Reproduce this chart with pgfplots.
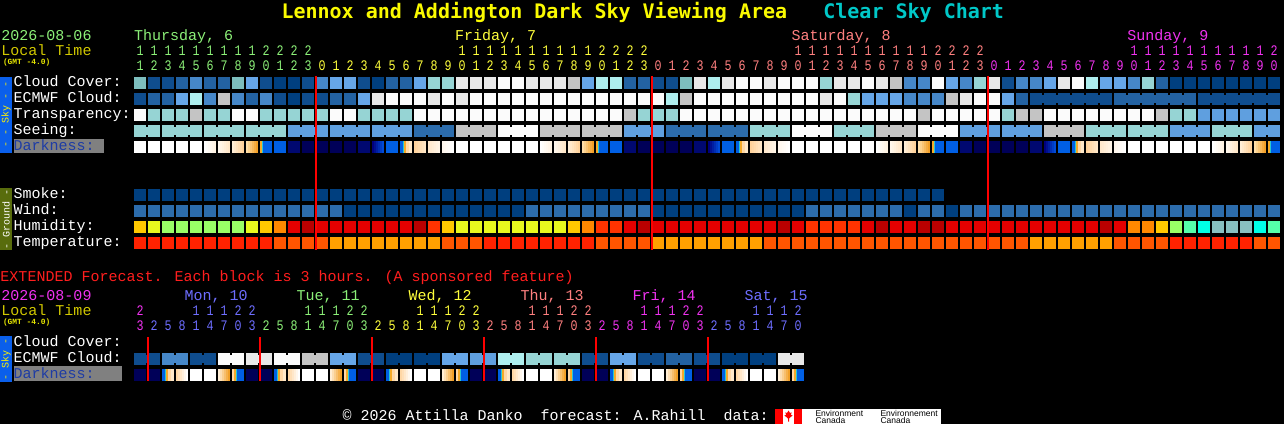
\documentclass[border=0pt]{standalone}
\usepackage{pgfplots}
\pgfplotsset{compat=1.18}
\usepackage{pgfplotstable}
\usepackage{graphicx}
\usepackage{fontspec}
\setmainfont{Liberation Mono}
\newfontfamily\titlefont{DejaVu Sans Mono}
\newfontfamily\sansf{Liberation Sans}

% cloud / sky palette
\definecolor{cA}{RGB}{0,63,127}
\definecolor{cB}{RGB}{15,77,142}
\definecolor{cC}{RGB}{35,98,162}
\definecolor{cD}{RGB}{70,135,200}
\definecolor{cE}{RGB}{102,166,232}
\definecolor{cF}{RGB}{125,190,190}
\definecolor{cG}{RGB}{150,212,212}
\definecolor{cH}{RGB}{174,238,238}
\definecolor{cI}{RGB}{196,196,196}
\definecolor{cJ}{RGB}{232,232,232}
\definecolor{cK}{RGB}{251,251,251}
\definecolor{cL}{RGB}{95,159,223}
\definecolor{cM}{RGB}{44,108,172}
% humidity
\definecolor{hYa}{RGB}{255,200,0}
\definecolor{hYb}{RGB}{232,248,30}
\definecolor{hGr}{RGB}{153,255,102}
\definecolor{hOa}{RGB}{255,136,0}
\definecolor{hOb}{RGB}{255,51,0}
\definecolor{hRa}{RGB}{228,0,0}
\definecolor{hRb}{RGB}{185,0,0}
\definecolor{hQa}{RGB}{85,255,170}
\definecolor{hQb}{RGB}{0,255,230}
\definecolor{hQc}{RGB}{136,192,192}
% temperature
\definecolor{tTa}{RGB}{255,34,0}
\definecolor{tTb}{RGB}{255,85,0}
\definecolor{tTc}{RGB}{255,160,0}
% darkness
\definecolor{nvA}{RGB}{0,0,88}
\definecolor{nvB}{RGB}{0,8,112}
\definecolor{nvG1}{RGB}{0,0,125}
\definecolor{nvG2}{RGB}{0,75,215}
\definecolor{sOr}{RGB}{245,170,40}
\definecolor{sCy}{RGB}{40,200,210}
\definecolor{sBl}{RGB}{0,95,228}
\definecolor{pkA}{RGB}{255,215,165}
\definecolor{pkB}{RGB}{255,232,200}
\definecolor{evA}{RGB}{255,243,226}
\definecolor{evB1}{RGB}{255,247,236}
\definecolor{evB2}{RGB}{255,231,200}
\definecolor{evC1}{RGB}{255,238,214}
\definecolor{evC2}{RGB}{255,210,155}
\definecolor{evD1}{RGB}{255,222,168}
\definecolor{evD2}{RGB}{242,160,40}
\definecolor{moE1}{RGB}{255,210,155}
\definecolor{moE2}{RGB}{255,230,198}
\definecolor{moF1}{RGB}{255,232,204}
\definecolor{moF2}{RGB}{255,244,230}
\definecolor{moH1}{RGB}{255,246,236}
% text colours
\definecolor{ttl}{RGB}{250,250,0}
\definecolor{cyn}{RGB}{0,200,200}
\definecolor{thuC}{RGB}{140,240,120}
\definecolor{friC}{RGB}{255,255,60}
\definecolor{satC}{RGB}{255,128,128}
\definecolor{sunC}{RGB}{240,50,240}
\definecolor{monC}{RGB}{110,110,255}
\definecolor{ltC}{RGB}{210,200,0}
\definecolor{gmtC}{RGB}{230,230,0}
\definecolor{extC}{RGB}{255,30,30}
\definecolor{skyB}{RGB}{10,95,235}
\definecolor{grdB}{RGB}{88,108,12}
\definecolor{dkT}{RGB}{30,60,165}

\pgfdeclareplotmark{blk}{\pgfpathrectangle{\pgfqpoint{-6pt}{-6pt}}{\pgfqpoint{12pt}{12pt}}\pgfusepathqfill}
\pgfdeclareplotmark{conn}{\pgfpathrectangle{\pgfqpoint{-2pt}{-4pt}}{\pgfqpoint{4pt}{8pt}}\pgfusepathqfill}
\newcommand{\strip}[3]{\pgfsetfillcolor{#1}\pgfpathrectangle{\pgfqpoint{#2pt}{-6pt}}{\pgfqpoint{#3pt}{12pt}}\pgfusepathqfill}
\newcommand{\gradmark}[3]{\pgfdeclareplotmark{#1}{\strip{#2}{-6}{2.4}\strip{#2!80!#3}{-4}{2.4}\strip{#2!60!#3}{-2}{2.4}\strip{#2!40!#3}{0}{2.4}\strip{#2!20!#3}{2}{2.4}\strip{#3}{4}{2}}}
\gradmark{mkA}{white}{evA}
\gradmark{mkB}{evB1}{evB2}
\gradmark{mkC}{evC1}{evC2}
\gradmark{mkD}{evD1}{evD2}
\gradmark{mkE}{moE1}{moE2}
\gradmark{mkF}{moF1}{moF2}
\gradmark{mkH}{moH1}{white}
\gradmark{mkG}{nvG1}{nvG2}
\gradmark{mkEt}{pkA}{white}
\gradmark{mkDt}{evC1}{evD2}
\pgfdeclareplotmark{mkS}{\strip{sOr}{-6}{2.3}\strip{sCy}{-4}{1.4}\strip{sBl}{-3}{9}}
\pgfdeclareplotmark{mkR}{\strip{sBl}{-6}{3.3}\strip{sCy}{-3}{1}\strip{sOr}{-2.2}{2.6}\strip{pkA}{0.2}{3.2}\strip{pkB}{3.2}{2.8}}
\pgfdeclareplotmark{mkSt}{\strip{pkA}{-6}{2.3}\strip{sOr}{-4}{2.3}\strip{sCy}{-2}{1.3}\strip{sBl}{-1}{7}}

\pgfplotsset{csc/.style={scatter, only marks, point meta=explicit symbolic,
  scatter/classes={
   a={fill=cA},b={fill=cB},c={fill=cC},d={fill=cD},e={fill=cE},f={fill=cF},
   g={fill=cG},h={fill=cH},i={fill=cI},j={fill=cJ},k={fill=cK},L={fill=cL},M={fill=cM},
   z={fill=black},
   Ya={fill=hYa},Yb={fill=hYb},Gr={fill=hGr},Oa={fill=hOa},Ob={fill=hOb},
   Ra={fill=hRa},Rb={fill=hRb},Qa={fill=hQa},Qb={fill=hQb},Qc={fill=hQc},
   Ta={fill=tTa},Tb={fill=tTb},Tc={fill=tTc},
   dW={mark=blk,fill=white},dN={mark=blk,fill=nvA},dn={mark=blk,fill=nvB},dU={mark=blk,fill=sBl},
   dA={mark=mkA},dB={mark=mkB},dC={mark=mkC},dD={mark=mkD},dS={mark=mkS},dG={mark=mkG},
   dR={mark=mkR},dE={mark=mkE},dF={mark=mkF},dH={mark=mkH},
   dR3={mark=mkR},dE3={mark=mkEt},dD3={mark=mkDt},dS3={mark=mkSt}}}}

\pgfplotstableread{
i cc ec ecn tr se sen dk sm wi hu te
0 f b z k g g dW a M Ya Ta
1 b c z g g z dW a M Yb Ta
2 b c z g g g dW a M Gr Ta
3 c e z g g g dW a M Gr Ta
4 d h z i g z dW a M Gr Ta
5 c d z g g g dA a M Gr Ta
6 c i z g g g dB a M Gr Ta
7 f d z k g z dC a M Gr Ta
8 e c z k g g dD a M Yb Ta
9 b d z g g g dS a M Ya Ta
10 a b z g g z dU a M Oa Tb
11 a a z g L L dn a M Ra Tb
12 b b z g L L dN a M Rb Tb
13 d b z g L z dN a M Ra Tb
14 e c z k L L dN a M Ra Tc
15 e c z k L L dN a a Ra Tc
16 b e z g L z dn a a Ra Tc
17 a j z g L L dG a a Ra Tc
18 c k z g L L dU a a Ra Tc
19 c k z g L z dR a a Ra Tc
20 e k z k M M dE a a Rb Tc
21 g j z k M M dF a a Ob Tc
22 g k z k M z dH a a Ya Tb
23 j j z k i i dW a a Yb Tb
24 j k z k i i dW a a Yb Tb
25 j k z k i z dW a a Yb Ta
26 k k z k k k dW a a Yb Ta
27 k k z k k k dW a a Yb Ta
28 j k z k k z dW a M Yb Ta
29 j k z k i i dA a M Yb Ta
30 j k z k i i dB a M Yb Ta
31 i k z k i z dC a M Ya Ta
32 e k z k i i dD a M Oa Ta
33 h k z k i i dS a M Ob Tb
34 h k z k i z dU a M Ob Tb
35 c k z i L L dn a M Ra Tb
36 c k z g L L dN a M Rb Tb
37 b k z g L z dN a a Ra Tc
38 b h z g M M dN a a Ra Tc
39 f i z k M M dN a a Ra Tc
40 j k z k M z dn a a Ra Tc
41 h k z k M M dG a a Ra Tc
42 j k z k M M dU a a Ra Tc
43 k k z k M z dR a a Ra Tc
44 k k z k g g dE a a Ra Tc
45 j k z k g g dF a a Ra Tb
46 k k z k g z dH a a Rb Tb
47 k k z k k k dW a a Ra Tb
48 k k z k k k dW a M Ob Tb
49 g j z k k z dW a M Ob Tb
50 j k z k g g dW a M Ob Tb
51 j g z k g g dW a M Ob Tb
52 k e z k g z dW a M Ra Tb
53 j e z k i i dA a M Rb Tb
54 i e z k i i dB a M Ra Tb
55 d d z k i z dC a a Ra Tb
56 d d z i k k dD a M Rb Tb
57 k d z k k k dS a M Rb Tb
58 e i z k k z dU z a Ra Tb
59 d j z k L L dn z M Ra Tb
60 g k z k L L dN z M Ra Tb
61 j k z k L z dN z M Ra Tb
62 b e z g L L dN z M Ra Tb
63 d c z i L L dN z M Ra Tb
64 d b b i L z dn z M Ra Tc
65 e b b k i i dG z M Ra Tc
66 j b b k i i dU z M Ra Tc
67 k b b k i z dR z M Ra Tc
68 h b b k g g dE z M Ra Tc
69 e b z k g g dF z M Rb Tc
70 e c c k g z dH z M Ra Tb
71 d c c k g g dW z M Oa Tb
72 g c c k g g dW z M Oa Tb
73 c c c i g z dW z M Ya Tb
74 a c c g L L dW z M Gr Ta
75 a c z g L L dW z M Qa Ta
76 a b b L L z dW z M Qb Ta
77 a b b L g g dA z M Qc Ta
78 a b b L g g dB z M Qc Ta
79 a b b L g z dC z M Qc Ta
80 a b b L L L dD z M Qb Tb
81 a b z L L z dS z M Qa Tb
}\maintab

\pgfplotstableread{
c ec ecn dk
0 b b dN
1 b z dN
2 d d dR3
3 d z dE3
4 b b dW
5 b z dW
6 k k dD3
7 k z dS3
8 j j dN
9 j z dN
10 k k dR3
11 k z dE3
12 i i dW
13 i z dW
14 e e dD3
15 e z dS3
16 b b dN
17 b z dN
18 a a dR3
19 a z dE3
20 a a dW
21 a z dW
22 e e dD3
23 e z dS3
24 L L dN
25 L z dN
26 h h dR3
27 h z dE3
28 g g dW
29 g z dW
30 g g dD3
31 g z dS3
32 b b dN
33 b z dN
34 e e dR3
35 e z dE3
36 b b dW
37 b z dW
38 c c dD3
39 c z dS3
40 b b dN
41 b z dN
42 a a dR3
43 a z dE3
44 a a dW
45 a z dW
46 j j dD3
47 j z dS3
}\exttab

\newcommand\lf{\fontsize{15}{15}\selectfont}
\newcommand\df{\fontsize{11.667}{12}\selectfont}
\tikzset{lab/.style={anchor=base west, inner sep=0pt, outer sep=0pt}}
\newcommand{\digs}[4]{\node[lab, text=#1, font=\df] at (axis cs:#2,#3) {\scalebox{1}[1.25]{#4}};}

\begin{document}
\begin{tikzpicture}
\begin{axis}[name=ax, at={(0,0)}, anchor=south west,
  width=1284pt, height=424pt, scale only axis,
  xmin=0, xmax=1284, ymin=0, ymax=424, y dir=reverse,
  hide axis, clip=false, clip marker paths=true]
\fill[black] (axis cs:0,0) rectangle (axis cs:1284,424);

% ---------- main sky & ground blocks ----------
\addplot[csc, mark=conn] table[x expr=147+14*\thisrow{i}, y expr=99, meta=ecn] {\maintab};
\addplot[csc, mark=conn] table[x expr=147+14*\thisrow{i}, y expr=131, meta=sen] {\maintab};
\addplot[csc, mark=blk] table[x expr=140+14*\thisrow{i}, y expr=83, meta=cc] {\maintab};
\addplot[csc, mark=blk] table[x expr=140+14*\thisrow{i}, y expr=99, meta=ec] {\maintab};
\addplot[csc, mark=blk] table[x expr=140+14*\thisrow{i}, y expr=115, meta=tr] {\maintab};
\addplot[csc, mark=blk] table[x expr=140+14*\thisrow{i}, y expr=131, meta=se] {\maintab};
\addplot[csc, mark=blk] table[x expr=140+14*\thisrow{i}, y expr=147, meta=dk] {\maintab};
\addplot[csc, mark=blk] table[x expr=140+14*\thisrow{i}, y expr=195, meta=sm] {\maintab};
\addplot[csc, mark=blk] table[x expr=140+14*\thisrow{i}, y expr=211, meta=wi] {\maintab};
\addplot[csc, mark=blk] table[x expr=140+14*\thisrow{i}, y expr=227, meta=hu] {\maintab};
\addplot[csc, mark=blk] table[x expr=140+14*\thisrow{i}, y expr=243, meta=te] {\maintab};

% ---------- extended blocks ----------
\addplot[csc, mark=conn] table[x expr=147+14*\thisrow{c}, y expr=359, meta=ecn] {\exttab};
\addplot[csc, mark=blk] table[x expr=140+14*\thisrow{c}, y expr=359, meta=ec] {\exttab};
\addplot[csc, mark=blk] table[x expr=140+14*\thisrow{c}, y expr=375, meta=dk] {\exttab};

% ---------- midnight lines ----------
\addplot[red, line width=2.3pt, mark=none] coordinates {(315.7,76) (315.7,250)};
\addplot[red, line width=2.3pt, mark=none] coordinates {(651.7,76) (651.7,250)};
\addplot[red, line width=2.3pt, mark=none] coordinates {(987.7,76) (987.7,250)};
\addplot[red, line width=2.3pt, mark=none] coordinates {(148,337) (148,381)};
\addplot[red, line width=2.3pt, mark=none] coordinates {(260,337) (260,381)};
\addplot[red, line width=2.3pt, mark=none] coordinates {(372,337) (372,381)};
\addplot[red, line width=2.3pt, mark=none] coordinates {(484,337) (484,381)};
\addplot[red, line width=2.3pt, mark=none] coordinates {(596,337) (596,381)};
\addplot[red, line width=2.3pt, mark=none] coordinates {(708,337) (708,381)};

% ---------- title ----------
\node[lab, font=\titlefont\bfseries\fontsize{20}{20}\selectfont] at (axis cs:281.5,18.7)
  {\textcolor{ttl}{Lennox and Addington Dark Sky Viewing Area}\ \ \ \textcolor{cyn}{Clear Sky Chart}};

% ---------- main header ----------
\node[lab, text=thuC, font=\lf] at (axis cs:1.5,40) {2026-08-06};
\node[lab, text=ltC, font=\lf] at (axis cs:1.5,55) {Local Time};
\node[lab, text=gmtC, font=\bfseries\fontsize{7.9}{8}\selectfont] at (axis cs:3,64) {(GMT -4.0)};
\node[lab, text=thuC, font=\lf] at (axis cs:134,40) {Thursday, 6};
\node[lab, text=friC, font=\lf] at (axis cs:455,40) {Friday, 7};
\node[lab, text=satC, font=\lf] at (axis cs:791.5,40) {Saturday, 8};
\node[lab, text=sunC, font=\lf] at (axis cs:1127.3,40) {Sunday, 9};
\digs{thuC}{136.5}{55}{1 1 1 1 1 1 1 1 1 2 2 2 2}
\digs{thuC}{136.5}{70.5}{1 2 3 4 5 6 7 8 9 0 1 2 3}
\digs{friC}{458.5}{55}{1 1 1 1 1 1 1 1 1 1 2 2 2 2}
\digs{friC}{318.5}{70.5}{0 1 2 3 4 5 6 7 8 9 0 1 2 3 4 5 6 7 8 9 0 1 2 3}
\digs{satC}{794.5}{55}{1 1 1 1 1 1 1 1 1 1 2 2 2 2}
\digs{satC}{654.5}{70.5}{0 1 2 3 4 5 6 7 8 9 0 1 2 3 4 5 6 7 8 9 0 1 2 3}
\digs{sunC}{1130.5}{55}{1 1 1 1 1 1 1 1 1 1 2}
\digs{sunC}{990.5}{70.5}{0 1 2 3 4 5 6 7 8 9 0 1 2 3 4 5 6 7 8 9 0}

% ---------- row labels ----------
\fill[skyB] (axis cs:0,76.5) rectangle (axis cs:12,153);
\node[rotate=90, text=yellow, inner sep=0pt, font=\fontsize{10}{10}\selectfont] at (axis cs:6,114.5) {- - Sky - -};
\node[lab, text=white, font=\lf] at (axis cs:13.5,86.5) {Cloud Cover:};
\node[lab, text=white, font=\lf] at (axis cs:13.5,102.5) {ECMWF Cloud:};
\node[lab, text=white, font=\lf] at (axis cs:13.5,118.5) {Transparency:};
\node[lab, text=white, font=\lf] at (axis cs:13.5,134.5) {Seeing:};
\fill[gray] (axis cs:14,138.5) rectangle (axis cs:104,152.5);
\node[lab, text=dkT, font=\lf] at (axis cs:13.5,150.5) {Darkness:};

\fill[grdB] (axis cs:0,188) rectangle (axis cs:12,250);
\node[rotate=90, text=white, inner sep=0pt, font=\fontsize{10}{10}\selectfont] at (axis cs:6,219) {- Ground -};
\node[lab, text=white, font=\lf] at (axis cs:13.5,198.5) {Smoke:};
\node[lab, text=white, font=\lf] at (axis cs:13.5,214.5) {Wind:};
\node[lab, text=white, font=\lf] at (axis cs:13.5,230.5) {Humidity:};
\node[lab, text=white, font=\lf] at (axis cs:13.5,246.5) {Temperature:};

% ---------- extended header ----------
\node[lab, text=extC, font=\lf] at (axis cs:0.5,281) {EXTENDED Forecast. Each block is 3 hours. (A sponsored feature)};
\node[lab, text=sunC, font=\lf] at (axis cs:1.5,300) {2026-08-09};
\node[lab, text=ltC, font=\lf] at (axis cs:1.5,315) {Local Time};
\node[lab, text=gmtC, font=\bfseries\fontsize{7.9}{8}\selectfont] at (axis cs:3,324.5) {(GMT -4.0)};
\node[lab, text=monC, font=\lf] at (axis cs:184.7,300) {Mon, 10};
\node[lab, text=thuC, font=\lf] at (axis cs:296.7,300) {Tue, 11};
\node[lab, text=friC, font=\lf] at (axis cs:408.7,300) {Wed, 12};
\node[lab, text=satC, font=\lf] at (axis cs:520.7,300) {Thu, 13};
\node[lab, text=sunC, font=\lf] at (axis cs:632.7,300) {Fri, 14};
\node[lab, text=monC, font=\lf] at (axis cs:744.7,300) {Sat, 15};
\digs{sunC}{136.5}{315}{2}
\digs{sunC}{136.5}{330.5}{3}
\digs{monC}{192.5}{315}{1 1 1 2 2}
\digs{monC}{150.5}{330.5}{2 5 8 1 4 7 0 3}
\digs{thuC}{304.5}{315}{1 1 1 2 2}
\digs{thuC}{262.5}{330.5}{2 5 8 1 4 7 0 3}
\digs{friC}{416.5}{315}{1 1 1 2 2}
\digs{friC}{374.5}{330.5}{2 5 8 1 4 7 0 3}
\digs{satC}{528.5}{315}{1 1 1 2 2}
\digs{satC}{486.5}{330.5}{2 5 8 1 4 7 0 3}
\digs{sunC}{640.5}{315}{1 1 1 2 2}
\digs{sunC}{598.5}{330.5}{2 5 8 1 4 7 0 3}
\digs{monC}{752.5}{315}{1 1 1 2}
\digs{monC}{710.5}{330.5}{2 5 8 1 4 7 0}

\fill[skyB] (axis cs:0,336) rectangle (axis cs:12,382);
\node[rotate=90, text=yellow, inner sep=0pt, font=\fontsize{10}{10}\selectfont] at (axis cs:6,359) {- Sky -};
\node[lab, text=white, font=\lf] at (axis cs:13.5,346.5) {Cloud Cover:};
\node[lab, text=white, font=\lf] at (axis cs:13.5,362.5) {ECMWF Cloud:};
\fill[gray] (axis cs:14,366) rectangle (axis cs:121.5,380.7);
\node[lab, text=dkT, font=\lf] at (axis cs:13.5,378.5) {Darkness:};

% ---------- footer ----------
\node[lab, text=white, font=\lf] at (axis cs:342.5,420.5) {© 2026 Attilla Danko\ \ forecast: A.Rahill\ \ data:};
\fill[white] (axis cs:783,409) rectangle (axis cs:941,424);
\fill[red] (axis cs:775,409) rectangle (axis cs:783.3,424);
\fill[red] (axis cs:793.5,409) rectangle (axis cs:801.7,424);
\fill[red] (axis cs:788.5,410.5) -- (axis cs:790,413) -- (axis cs:791.6,412.4) -- (axis cs:791,415) -- (axis cs:792.6,415.3) -- (axis cs:789,418.6) -- (axis cs:789,421.5) -- (axis cs:788,421.5) -- (axis cs:788,418.6) -- (axis cs:784.4,415.3) -- (axis cs:786,415) -- (axis cs:785.4,412.4) -- (axis cs:787,413) -- cycle;
\node[lab, text=black, font=\sansf\fontsize{8.5}{8.5}\selectfont] at (axis cs:815.5,416) {Environment};
\node[lab, text=black, font=\sansf\fontsize{8.5}{8.5}\selectfont] at (axis cs:815.5,423) {Canada};
\node[lab, text=black, font=\sansf\fontsize{8.5}{8.5}\selectfont] at (axis cs:880.5,416) {Environnement};
\node[lab, text=black, font=\sansf\fontsize{8.5}{8.5}\selectfont] at (axis cs:880.5,423) {Canada};
\end{axis}
\pgfresetboundingbox
\path[use as bounding box] (ax.south west) rectangle (ax.north east);
\end{tikzpicture}
\end{document}
